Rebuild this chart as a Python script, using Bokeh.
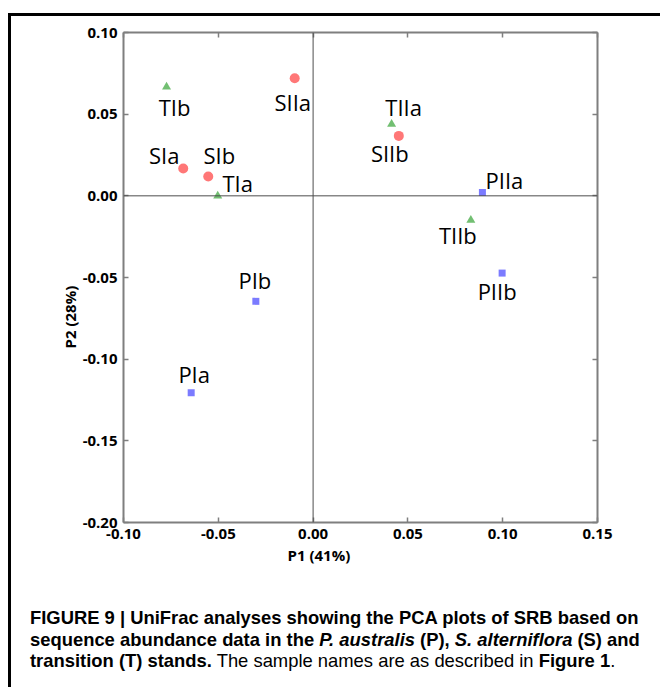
from bokeh.plotting import figure
from bokeh.layouts import column
from bokeh.models import (ColumnDataSource, Range1d, LinearAxis, FixedTicker,
                          NumeralTickFormatter, CustomJSTickFormatter, Span, Title, Div)
from bokeh.core.properties import value
from bokeh.embed import file_html
from bokeh.resources import INLINE

# ---------------- data ----------------
names = ["PIa", "PIb", "PIIa", "PIIb", "SIa", "SIb", "SIIa", "SIIb", "TIa", "TIb", "TIIa", "TIIb"]
p1 = [-0.0643, -0.0302, 0.0893, 0.0997, -0.0685, -0.0553, -0.0097, 0.0452, -0.0503, -0.0773, 0.0414, 0.0832]
p2 = [-0.1205, -0.0646, 0.0020, -0.0473, 0.0167, 0.0118, 0.0720, 0.0367, 0.0000, 0.0667, 0.0439, -0.0149]
stand = ["P", "P", "P", "P", "S", "S", "S", "S", "T", "T", "T", "T"]

x_ticks = [-0.10, -0.05, 0.00, 0.05, 0.10, 0.15]
y_ticks = [-0.20, -0.15, -0.10, -0.05, 0.00, 0.05, 0.10]
x_title = "P1 (41%)"
y_title = "P2 (28%)"

caption_bold = "FIGURE 9 | UniFrac analyses showing the PCA plots of SRB based on"
caption_l2 = ["sequence abundance data in the ", "P. australis", " (P), ",
              "S. alterniflora", " (S) and"]
caption_l3 = ["transition (T) stands.", " The sample names are as described in ",
              "Figure 1", "."]

# label placement relative to each point (screen pixels: right, down)
label_dx = {"PIa": 3, "PIb": -1, "PIIa": 22, "PIIb": -5, "SIa": -19, "SIb": 11,
            "SIIa": -2, "SIIb": -9, "TIa": 20, "TIb": 8, "TIIa": 12, "TIIb": -13}
label_dy = {"PIa": -19, "PIb": -21, "PIIa": -13, "PIIb": 18, "SIa": -14, "SIb": -22,
            "SIIa": 24, "SIIb": 17, "TIa": -13, "TIb": 20, "TIIa": -17, "TIIb": 15}

styles = {
    "P": dict(marker="square", size=7, color="#7b7bff"),
    "S": dict(marker="circle", size=10, color="#ff7777"),
    "T": dict(marker="triangle", size=9, color="#72bf72"),
}

# ---------------- figure ----------------
p = figure(frame_width=474, frame_height=490, width=648,
           x_range=Range1d(-0.10, 0.15), y_range=Range1d(-0.20, 0.10),
           output_backend="svg", toolbar_location=None,
           min_border_left=112, min_border_right=62,
           min_border_top=16, min_border_bottom=80)
p.grid.visible = False
p.outline_line_color = None
p.background_fill_color = "white"
p.border_fill_color = "white"

AX_COLOR = "#7f7f7f"


def style_axis(ax, labels=True):
    ax.axis_line_color = AX_COLOR
    ax.axis_line_width = 2
    ax.major_tick_line_color = AX_COLOR
    ax.major_tick_line_width = 1.5
    ax.major_tick_in = 5
    ax.major_tick_out = 0
    ax.minor_tick_line_color = None
    ax.major_label_text_font = "Open Sans"
    ax.major_label_text_font_style = "bold"
    ax.major_label_text_font_size = "15px"
    ax.major_label_text_color = "black"
    ax.major_label_standoff = 6
    if not labels:
        ax.formatter = CustomJSTickFormatter(code="return ''")
        ax.major_label_standoff = 0
        ax.major_label_text_font_size = "2px"


p.xaxis.ticker = FixedTicker(ticks=x_ticks)
p.yaxis.ticker = FixedTicker(ticks=y_ticks)
p.xaxis.formatter = NumeralTickFormatter(format="0.00")
p.yaxis.formatter = NumeralTickFormatter(format="0.00")
style_axis(p.xaxis[0])
style_axis(p.yaxis[0])

top_axis = LinearAxis(ticker=FixedTicker(ticks=x_ticks))
right_axis = LinearAxis(ticker=FixedTicker(ticks=y_ticks))
style_axis(top_axis, labels=False)
style_axis(right_axis, labels=False)
p.add_layout(top_axis, "above")
p.add_layout(right_axis, "right")

# axis titles (offset along the axis as in the original)
p.add_layout(Title(text=x_title, align="left", offset=164, standoff=2,
                   text_font="Open Sans", text_font_style="bold",
                   text_font_size="15px", text_color="black"), "below")
p.add_layout(Title(text=y_title, align="left", offset=174, standoff=0,
                   text_font="Open Sans", text_font_style="bold",
                   text_font_size="15px", text_color="black"), "left")

# zero cross lines
p.add_layout(Span(location=0, dimension="height", line_color="#4d4d4d", line_width=1))
p.add_layout(Span(location=0, dimension="width", line_color="#4d4d4d", line_width=1))

# points per stand
for g in ["P", "S", "T"]:
    idx = [i for i, s in enumerate(stand) if s == g]
    src = ColumnDataSource(dict(x=[p1[i] for i in idx], y=[p2[i] for i in idx]))
    st = styles[g]
    p.scatter(x="x", y="y", source=src, marker=st["marker"], size=st["size"],
              fill_color=st["color"], line_color=None)

# sample labels
lsrc = ColumnDataSource(dict(x=p1, y=p2, text=names,
                             dx=[label_dx[n] for n in names],
                             dy=[label_dy[n] for n in names]))
p.text(x="x", y="y", text="text", source=lsrc, x_offset="dx", y_offset="dy",
       text_align="center", text_baseline="middle",
       text_font=value("Open Sans"), text_font_size="22px", text_color="black")

# ---------------- caption ----------------
l2 = (f"{caption_l2[0]}<i>{caption_l2[1]}</i>{caption_l2[2]}"
      f"<i>{caption_l2[3]}</i>{caption_l2[4]}")
l3 = (f"{caption_l3[0]}<span style='font-weight:normal'>{caption_l3[1]}</span>"
      f"{caption_l3[2]}<span style='font-weight:normal'>{caption_l3[3]}</span>")
html = ("<div style=\"font-family:'Liberation Sans',Arial,sans-serif;font-size:18.4px;"
        "line-height:21.5px;font-weight:bold;color:black;white-space:nowrap;"
        "padding-left:14px;margin:0\">"
        f"{caption_bold}<br>{l2}<br>{l3}</div>")
cap = Div(text=html, width=648, height=84)

layout = column(p, cap, styles={"margin-left": "8px", "margin-top": "13px",
                                "border-left": "3px solid black",
                                "border-top": "3px solid black"})

open("out.html", "w").write(file_html(layout, INLINE))
